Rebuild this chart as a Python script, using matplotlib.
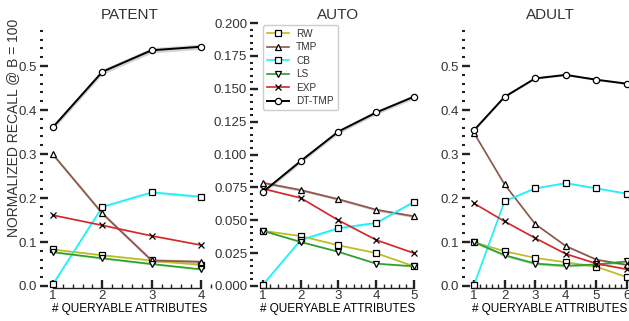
import matplotlib
matplotlib.use("Agg")
import matplotlib.pyplot as plt
from matplotlib.ticker import MultipleLocator

plt.rcParams['font.family'] = ['Liberation Sans', 'DejaVu Sans']
plt.rcParams['text.color'] = '#333333'
plt.rcParams['xtick.color'] = '#222222'
plt.rcParams['ytick.color'] = '#222222'
plt.rcParams['xtick.labelcolor'] = '#333333'
plt.rcParams['ytick.labelcolor'] = '#333333'

methods = ['RW', 'TMP', 'CB', 'LS', 'EXP', 'DT-TMP']
colors = ['#bcbd22', '#8c564b', '#22eef5', '#2ca02c', '#d62728', 'black']
markers = ['s', '^', 's', 'v', 'x', 'o']

patent_x = [1, 2, 3, 4]
patent_rw = [0.083, 0.070, 0.058, 0.048]
patent_tmp = [0.299, 0.165, 0.058, 0.055]
patent_cb = [0.004, 0.180, 0.213, 0.203]
patent_ls = [0.077, 0.063, 0.050, 0.038]
patent_exp = [0.161, 0.138, 0.114, 0.093]
patent_dt = [0.361, 0.487, 0.536, 0.544]
patent_err = [0.002, 0.004, 0.003, 0.002, 0.001, 0.006]

auto_x = [1, 2, 3, 4, 5]
auto_rw = [0.042, 0.038, 0.031, 0.025, 0.015]
auto_tmp = [0.0785, 0.073, 0.066, 0.058, 0.053]
auto_cb = [0.001, 0.035, 0.044, 0.048, 0.064]
auto_ls = [0.042, 0.0335, 0.026, 0.017, 0.015]
auto_exp = [0.074, 0.067, 0.050, 0.035, 0.025]
auto_dt = [0.0715, 0.095, 0.1175, 0.132, 0.144]
auto_err = [0.0005, 0.001, 0.001, 0.0006, 0.0004, 0.0016]

adult_x = [1, 2, 3, 4, 5, 6]
adult_rw = [0.100, 0.079, 0.064, 0.054, 0.044, 0.020]
adult_tmp = [0.348, 0.231, 0.141, 0.091, 0.060, 0.048]
adult_cb = [0.002, 0.193, 0.222, 0.234, 0.222, 0.210]
adult_ls = [0.100, 0.070, 0.051, 0.046, 0.049, 0.056]
adult_exp = [0.188, 0.147, 0.109, 0.073, 0.051, 0.038]
adult_dt = [0.354, 0.430, 0.472, 0.480, 0.469, 0.460]
adult_err = [0.001, 0.002, 0.002, 0.003, 0.001, 0.002]

panels = [
    ('PATENT', patent_x, [patent_rw, patent_tmp, patent_cb, patent_ls, patent_exp, patent_dt], patent_err),
    ('AUTO', auto_x, [auto_rw, auto_tmp, auto_cb, auto_ls, auto_exp, auto_dt], auto_err),
    ('ADULT', adult_x, [adult_rw, adult_tmp, adult_cb, adult_ls, adult_exp, adult_dt], adult_err),
]

# axes placement in figure fractions (left, width), plus limits
boxes = [(0.0763, 0.2591), (0.4102, 0.2539), (0.7472, 0.2544)]
xlims = [(0.9, 4.2), (0.87, 5.1), (0.87, 6.1)]
ylims = [(-0.005, 0.598), (-0.0017, 0.2001), (-0.005, 0.598)]
ymajor = [0.1, 0.025, 0.1]
yminor = [0.02, 0.005, 0.02]

fig = plt.figure(figsize=(6.29, 3.21), dpi=100)

for i, (title, xs, series, errs) in enumerate(panels):
    left, width = boxes[i]
    ax = fig.add_axes([left, 0.1022, width, 0.8262])
    for name, ys, c, m, e in zip(methods, series, colors, markers, errs):
        lw = 1.4 if name == 'DT-TMP' else 1.2
        ax.fill_between(xs, [y - e for y in ys], [y + e for y in ys],
                        color=c if name != 'DT-TMP' else 'gray', alpha=0.35, lw=0)
        ax.plot(xs, ys, color=c, lw=lw, marker=m, markersize=4.5,
                markerfacecolor='white', markeredgecolor='black',
                markeredgewidth=0.9, label=name, clip_on=False)
    ax.set_xlim(*xlims[i])
    ax.set_ylim(*ylims[i])
    ax.xaxis.set_major_locator(MultipleLocator(1))
    ax.xaxis.set_minor_locator(MultipleLocator(0.2))
    ax.yaxis.set_major_locator(MultipleLocator(ymajor[i]))
    ax.yaxis.set_minor_locator(MultipleLocator(yminor[i]))
    for s in ['top', 'right']:
        ax.spines[s].set_visible(False)
    ax.spines['left'].set_position(('outward', 5.8))
    ax.spines['left'].set_visible(False)
    ax.spines['bottom'].set_bounds(xs[0], xs[-1])
    ax.spines['bottom'].set_linewidth(1.0)
    ax.spines['bottom'].set_color('#222222')
    ax.tick_params(axis='y', which='major', direction='in', length=5.8, width=1.7,
                   labelsize=9.5, pad=2)
    ax.tick_params(axis='y', which='minor', direction='in', length=2.5, width=1.5)
    ax.tick_params(axis='x', which='major', direction='in', length=6, width=1.7,
                   labelsize=9.5, pad=1)
    ax.tick_params(axis='x', which='minor', direction='in', length=2.8, width=1.0)
    ax.set_title(title, fontsize=11, pad=3)
    ax.set_xlabel('# QUERYABLE ATTRIBUTES', fontsize=8.5, labelpad=1)
    if title == 'AUTO':
        ax.legend(loc='upper left', fontsize=7.2, handlelength=2.2, handletextpad=0.7,
                  labelspacing=0.35, borderaxespad=0.2, frameon=True,
                  edgecolor='#cccccc', framealpha=1, fancybox=True,
                  bbox_to_anchor=(0.02, 1.0))

fig.text(13 / 629, 1 - 128 / 321, 'NORMALIZED RECALL @ B = 100', rotation=90,
         ha='center', va='center', fontsize=10, color='#333333')

fig.savefig('out.png', dpi=100)
